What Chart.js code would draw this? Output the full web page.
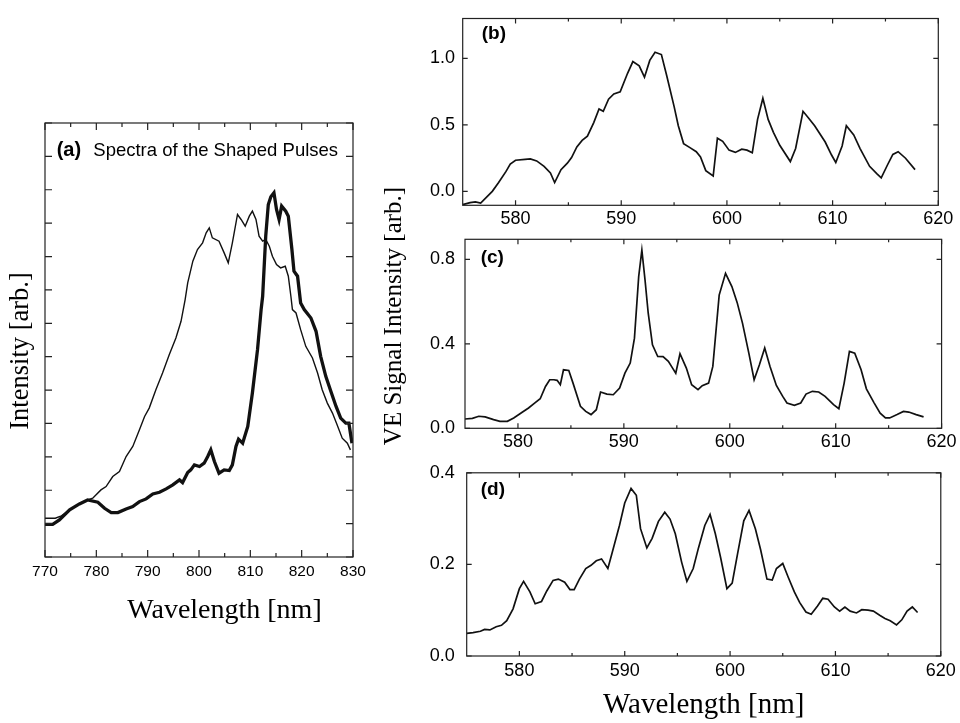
<!DOCTYPE html>
<html><head><meta charset="utf-8">
<script src="https://cdn.jsdelivr.net/npm/chart.js@4.4.1/dist/chart.umd.min.js"></script>
<style>
html,body{margin:0;padding:0;background:#fff;width:960px;height:723px;overflow:hidden;}
canvas{position:absolute;}
</style></head><body>
<canvas id="ca" width="449" height="582" style="left:0px;top:60px;width:449px;height:582px"></canvas>
<canvas id="cb" width="580" height="230" style="left:380px;top:0px;width:580px;height:230px"></canvas>
<canvas id="cc" width="585" height="278" style="left:375px;top:177px;width:585px;height:278px"></canvas>
<canvas id="cd" width="580" height="273" style="left:380px;top:450px;width:580px;height:273px"></canvas>
<script>
// ---------- DATA ----------
// Panel (a): spectra of the shaped pulses (arbitrary units, 0..13 frame)
const aWavelengthThin = [770,772,773.2,774.8,776.7,778.3,779.3,780.9,781.9,783.2,784.5,785.8,787.1,788.4,789.4,790.3,791.6,792.9,794.2,795.5,796.5,797.3,797.8,798.8,799.7,800.7,801.4,802,802.6,803.9,804.9,805.7,806.5,807.5,808.2,809,809.8,810.4,811.1,811.7,812.4,813,813.7,814.3,815.1,815.9,816.8,817.4,817.9,818.2,818.9,819.8,820.8,822.1,823.1,824,825,826,826.9,827.9,828.9,829.5];
const aIntensityThin  = [1.16,1.16,1.23,1.41,1.59,1.71,1.76,2.01,2.11,2.41,2.56,3.01,3.31,3.81,4.21,4.46,5.01,5.51,6.06,6.56,7.06,7.71,8.21,8.86,9.21,9.41,9.71,9.86,9.56,9.46,9.11,8.81,9.41,10.26,10.11,9.91,10.21,10.36,10.11,9.61,9.46,9.51,9.31,9.01,8.76,8.66,8.71,8.41,7.81,7.41,7.31,6.81,6.31,5.96,5.51,5.01,4.61,4.31,3.96,3.56,3.41,3.21];
const aWavelengthThick = [770,771.5,772.8,774.8,776.7,778.3,780.3,781.6,782.9,784.2,785.8,787.1,788.4,789.7,791,792.3,793.6,794.9,796.2,796.8,797.8,798.4,799.1,800.1,801,801.7,802.3,803,803.9,804.9,805.9,806.5,807.2,807.7,808.5,809.5,810.4,811.4,812.1,812.4,813,813.5,814,814.6,815.1,815.6,816.1,816.9,817.4,818.1,818.5,819.2,819.8,820.5,821.8,822.8,823.7,824.7,825.7,826.7,827.6,828.6,829.2,829.8];
const aIntensityThick  = [0.98,0.98,1.11,1.41,1.59,1.71,1.64,1.46,1.33,1.33,1.44,1.51,1.66,1.74,1.89,1.94,2.04,2.16,2.31,2.23,2.53,2.61,2.76,2.71,2.81,3.01,3.21,2.86,2.51,2.61,2.59,2.76,3.31,3.53,3.41,3.91,4.91,6.21,7.41,7.81,9.61,10.56,10.79,10.91,10.41,10.11,10.51,10.36,10.21,9.21,8.56,8.41,7.61,7.41,7.16,6.76,6.01,5.41,4.96,4.51,4.16,4.01,4.01,3.41];

// Panel (b)
const bWavelength = [575,575.7,576.2,576.7,577.8,578.4,579.1,579.5,580,580.9,581.4,582,582.7,583.3,583.7,584.3,584.9,585.3,585.8,586.3,586.8,587.4,587.9,588.3,588.8,589.3,589.9,590.6,591.1,591.7,592.2,592.7,593.2,593.8,594.3,595,595.4,595.9,596.5,597.1,597.5,598,598.7,599.1,599.6,600.2,600.8,601.4,601.9,602.4,602.9,603.4,603.9,604.4,605,606,606.5,607.2,607.7,608.3,609.3,609.9,610.3,610.9,611.3,612,612.6,613.5,614.2,614.6,615.2,615.7,616.2,616.9,617.8];
const bSignal     = [-0.1,-0.085,-0.08,-0.088,0.0,0.066,0.15,0.205,0.234,0.241,0.244,0.229,0.188,0.139,0.066,0.163,0.212,0.254,0.334,0.383,0.415,0.517,0.62,0.602,0.693,0.732,0.749,0.888,0.976,0.944,0.859,0.985,1.046,1.029,0.871,0.639,0.493,0.359,0.329,0.298,0.259,0.156,0.115,0.40,0.376,0.31,0.293,0.317,0.31,0.29,0.541,0.70,0.541,0.444,0.346,0.224,0.322,0.602,0.554,0.493,0.371,0.273,0.217,0.341,0.493,0.424,0.322,0.188,0.132,0.102,0.2,0.278,0.298,0.249,0.163];

// Panel (c)
const cWavelength = [575,575.7,576.3,576.9,577.7,578.3,579,579.6,580.4,581,581.6,582.1,582.6,583,583.4,583.7,584,584.3,584.8,585.2,585.9,586.4,586.9,587.4,587.8,588.4,589,589.6,590.1,590.6,591,591.4,591.7,592,592.3,592.7,593.2,593.7,594.2,594.6,594.9,595.3,595.9,596.4,597,597.4,598,598.4,599,599.6,600.2,600.7,601.2,601.8,602.3,602.8,603.3,603.8,604.4,605,605.4,606.1,606.7,607.2,607.8,608.4,609,609.8,610.3,610.8,611.3,611.8,612.4,612.9,613.6,614.2,614.7,615.1,615.8,616.4,616.9,617.6,618.3];
const cSignal     = [0.044,0.047,0.057,0.054,0.041,0.033,0.033,0.049,0.076,0.096,0.12,0.14,0.198,0.23,0.23,0.227,0.206,0.277,0.274,0.214,0.104,0.08,0.065,0.088,0.172,0.162,0.159,0.191,0.261,0.309,0.427,0.718,0.844,0.702,0.545,0.395,0.34,0.339,0.317,0.285,0.261,0.353,0.285,0.206,0.183,0.202,0.214,0.293,0.631,0.734,0.671,0.595,0.498,0.356,0.23,0.301,0.38,0.293,0.203,0.151,0.12,0.109,0.12,0.162,0.175,0.172,0.151,0.112,0.093,0.214,0.364,0.356,0.277,0.187,0.123,0.072,0.049,0.049,0.065,0.08,0.077,0.065,0.054];

// Panel (d)
const dWavelength = [575,575.6,576.3,576.7,577.2,577.8,578.3,578.8,579.4,580,580.4,581,581.5,582.1,582.6,583.2,583.7,584.3,584.8,585.2,585.7,586.3,586.8,587.3,587.8,588.4,588.8,589.5,590,590.6,591.1,591.5,592.1,592.6,593.2,593.8,594.3,594.8,595.4,595.9,596.5,597,597.6,598.1,598.6,599.1,599.7,600.2,600.7,601.3,601.8,602.4,602.9,603.5,604,604.4,605,605.5,606.1,606.6,607.2,607.7,608.3,608.8,609.3,609.9,610.4,610.9,611.4,612,612.5,613.1,613.6,614.2,614.7,615.2,615.8,616.3,616.8,617.3,617.8];
const dSignal     = [0.0496,0.051,0.054,0.058,0.057,0.064,0.067,0.077,0.103,0.147,0.163,0.14,0.114,0.119,0.142,0.165,0.168,0.161,0.145,0.145,0.168,0.191,0.198,0.208,0.212,0.191,0.225,0.285,0.334,0.366,0.351,0.278,0.236,0.257,0.294,0.314,0.299,0.267,0.205,0.163,0.191,0.236,0.285,0.309,0.267,0.215,0.147,0.159,0.222,0.295,0.318,0.278,0.232,0.168,0.166,0.191,0.202,0.173,0.14,0.117,0.096,0.091,0.109,0.126,0.124,0.107,0.098,0.107,0.098,0.094,0.101,0.1,0.098,0.089,0.082,0.077,0.068,0.079,0.098,0.107,0.095];

// Ticks
const aXTicks = [770,780,790,800,810,820,830];
const aXMinor = [775,785,795,805,815,825];
const aYTicks = [0,1,2,3,4,5,6,7,8,9,10,11,12,13];
const rXTicks = [580,590,600,610,620];
const rXMinor = [585,595,605,615];
const bYTicks = [0,0.5,1.0];
const cYTicks = [0,0.4,0.8];
const dYTicks = [0,0.2,0.4];

// Texts
const panelLabels = ['(a)','(b)','(c)','(d)'];
const captionA = 'Spectra of the Shaped Pulses';
const aYTitle = 'Intensity [arb.]';
const xTitle = 'Wavelength [nm]';
const rYTitle = 'VE Signal Intensity [arb.]';

// ---------- HELPERS ----------
const SANS = "'Liberation Sans', Arial, sans-serif";
const SERIF = "'Liberation Serif', 'Times New Roman', serif";
const INK = '#111';

const frameTicks = {
  id: 'frameTicks',
  afterDatasetsDraw(chart, args, o) {
    const {ctx, chartArea: ca, scales} = chart;
    const xs = scales.x, ys = scales.y;
    ctx.save();
    ctx.strokeStyle = o.color || '#222';
    ctx.lineWidth = o.lineWidth || 1.2;
    ctx.strokeRect(ca.left, ca.top, ca.right - ca.left, ca.bottom - ca.top);
    ctx.beginPath();
    const seg = (x1, y1, x2, y2) => { ctx.moveTo(x1, y1); ctx.lineTo(x2, y2); };
    [[o.xMajor || [], o.majorLen], [o.xMinor || [], o.minorLen]].forEach(([vals, len]) => {
      vals.forEach(v => {
        const p = xs.getPixelForValue(v);
        seg(p, ca.bottom, p, ca.bottom - len);
        seg(p, ca.top, p, ca.top + len);
      });
    });
    [[o.yMajor || [], o.majorLen], [o.yMinor || [], o.minorLen]].forEach(([vals, len]) => {
      vals.forEach(v => {
        const p = ys.getPixelForValue(v);
        seg(ca.left, p, ca.left + len, p);
        seg(ca.right, p, ca.right - len, p);
      });
    });
    ctx.stroke();
    ctx.fillStyle = '#000';
    ctx.textAlign = 'left';
    ctx.textBaseline = 'alphabetic';
    if (o.label) {
      ctx.font = o.labelFont;
      ctx.fillText(o.label, ca.left + o.labelDx, ca.top + o.labelDy);
    }
    if (o.caption) {
      ctx.font = o.captionFont;
      ctx.fillText(o.caption, ca.left + o.captionDx, ca.top + o.labelDy);
    }
    ctx.restore();
  }
};

function pts(xs, ys) { return xs.map((x, i) => ({x: x, y: ys[i]})); }
function dummy(pos, size) {
  return {
    type: 'linear', position: pos, display: true, min: 0, max: 1,
    ticks: {display: false}, grid: {display: false, drawTicks: false}, border: {display: false},
    afterFit: s => { if (pos === 'top' || pos === 'bottom') s.height = size; else s.width = size; }
  };
}
function tickSetter(vals) { return s => { s.ticks = vals.map(v => ({value: v})); }; }
const base = {
  responsive: false, animation: false, events: [],
  plugins: {legend: {display: false}, tooltip: {enabled: false}},
  elements: {point: {radius: 0}, line: {tension: 0}}
};

// ---------- PANEL (a) ----------
new Chart(document.getElementById('ca'), {
  type: 'line',
  data: {datasets: [
    {data: pts(aWavelengthThin, aIntensityThin), borderColor: INK, borderWidth: 1.4, fill: false},
    {data: pts(aWavelengthThick, aIntensityThick), borderColor: INK, borderWidth: 3.3, fill: false}
  ]},
  options: Object.assign({}, base, {
    layout: {padding: 0},
    scales: {
      x: {type: 'linear', min: 770, max: 830, afterBuildTicks: tickSetter(aXTicks),
          ticks: {color: '#000', font: {family: SANS, size: 15.5}, padding: 5.7, maxRotation: 0, callback: v => String(v)},
          grid: {display: false, drawTicks: false}, border: {display: false},
          afterFit: s => { s.height = 30; }},
      y: {type: 'linear', min: 0, max: 13, ticks: {display: false},
          grid: {display: false, drawTicks: false}, border: {display: false},
          afterFit: s => { s.width = 8.2; }},
      xTop: dummy('top', 63),
      yRight: dummy('right', 96)
    },
    plugins: {
      legend: {display: false}, tooltip: {enabled: false},
      title: {display: true, position: 'bottom', text: xTitle, color: '#000',
              font: {family: SERIF, size: 28, weight: 'normal'}, padding: {top: 6.7, bottom: 14.7}},
      subtitle: {display: true, position: 'left', text: aYTitle, color: '#000',
              font: {family: SERIF, size: 26.5, weight: 'normal'}, padding: {top: 5, bottom: 0}},
      frameTicks: {xMajor: aXTicks, xMinor: aXMinor, yMajor: aYTicks, majorLen: 7, minorLen: 4,
              label: panelLabels[0], labelFont: 'bold 20px ' + SANS, labelDx: 11.7, labelDy: 32.7,
              caption: captionA, captionFont: '18.5px ' + SANS, captionDx: 48.3}
    }
  }),
  plugins: [frameTicks]
});

// ---------- right panels ----------
function rightX(pad, h) {
  return {type: 'linear', min: 575, max: 620, afterBuildTicks: tickSetter(rXTicks),
    ticks: {color: '#000', font: {family: SANS, size: 18}, padding: pad, maxRotation: 0, callback: v => String(v)},
    grid: {display: false, drawTicks: false}, border: {display: false},
    afterFit: s => { s.height = h; }};
}
function rightY(min, max, vals, pad, w) {
  return {type: 'linear', min: min, max: max, afterBuildTicks: tickSetter(vals),
    ticks: {color: '#000', font: {family: SANS, size: 18}, padding: pad, callback: v => v.toFixed(1)},
    grid: {display: false, drawTicks: false}, border: {display: false},
    afterFit: s => { s.width = w; }};
}

// (b)
new Chart(document.getElementById('cb'), {
  type: 'line',
  data: {datasets: [{data: pts(bWavelength, bSignal), borderColor: INK, borderWidth: 1.7, fill: false}]},
  options: Object.assign({}, base, {
    layout: {padding: {left: 0, top: 13.3, right: 21.7, bottom: 0}},
    scales: {x: rightX(3.1, 24.7), y: rightY(-0.105, 1.3, bYTicks, 7.7, 82.7)},
    plugins: {legend: {display: false}, tooltip: {enabled: false},
      frameTicks: {xMajor: rXTicks, xMinor: rXMinor, yMajor: bYTicks, majorLen: 5, minorLen: 3,
        label: panelLabels[1], labelFont: 'bold 19px ' + SANS, labelDx: 19, labelDy: 20.5}}
  }),
  plugins: [frameTicks]
});

// (c)
new Chart(document.getElementById('cc'), {
  type: 'line',
  data: {datasets: [{data: pts(cWavelength, cSignal), borderColor: INK, borderWidth: 1.7, fill: false}]},
  options: Object.assign({}, base, {
    layout: {padding: {left: 0, top: 0, right: 16.7, bottom: 0}},
    scales: {x: rightX(3.4, 26.7), y: rightY(0, 0.895, cYTicks, 10, 56), xTop: dummy('top', 62.3)},
    plugins: {legend: {display: false}, tooltip: {enabled: false},
      subtitle: {display: true, position: 'left', text: rYTitle, color: '#000',
              font: {family: SERIF, size: 25, weight: 'normal'}, padding: {top: 4, bottom: 0}},
      frameTicks: {xMajor: rXTicks, xMinor: rXMinor, yMajor: cYTicks, majorLen: 5, minorLen: 3,
        label: panelLabels[2], labelFont: 'bold 19px ' + SANS, labelDx: 15.7, labelDy: 24}}
  }),
  plugins: [frameTicks]
});

// (d)
new Chart(document.getElementById('cd'), {
  type: 'line',
  data: {datasets: [{data: pts(dWavelength, dSignal), borderColor: INK, borderWidth: 1.7, fill: false}]},
  options: Object.assign({}, base, {
    layout: {padding: {left: 0, top: 15, right: 16.7, bottom: 0}},
    scales: {
      x: Object.assign(rightX(4.2, 67), {title: {display: true, text: xTitle, color: '#000',
           font: {family: SERIF, size: 29, weight: 'normal'}, padding: {top: 0, bottom: 0}}}),
      y: rightY(0, 0.4, dYTicks, 12, 86.7)
    },
    plugins: {legend: {display: false}, tooltip: {enabled: false},
      frameTicks: {xMajor: rXTicks, xMinor: rXMinor, yMajor: dYTicks, majorLen: 5, minorLen: 3,
        label: panelLabels[3], labelFont: 'bold 19px ' + SANS, labelDx: 14, labelDy: 21.7}}
  }),
  plugins: [frameTicks]
});
</script>
</body></html>
